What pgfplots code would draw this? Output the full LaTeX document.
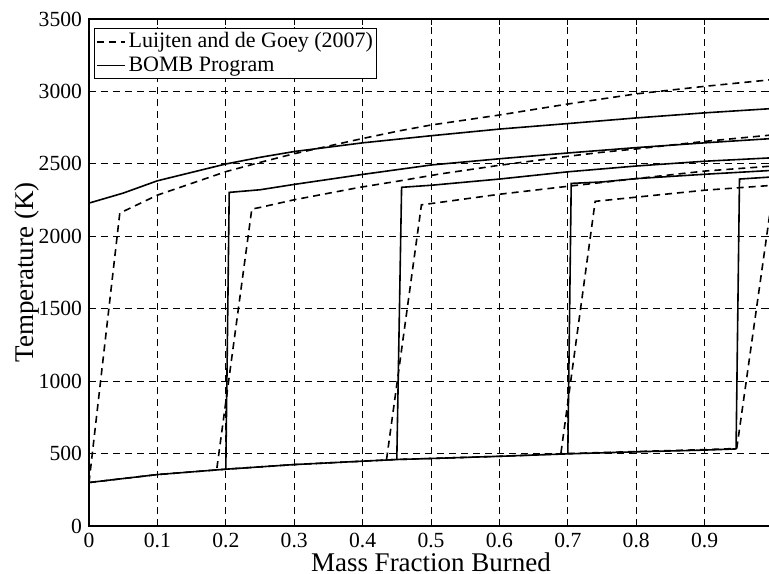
\documentclass[border=0pt]{standalone}
\usepackage{fontspec}
\setmainfont{Liberation Serif}
\usepackage{pgfplots}
\pgfplotsset{compat=1.18}
\begin{document}
\begin{tikzpicture}
\begin{axis}[
  scale only axis, width=342pt, height=253.5pt,
  xmin=0, xmax=1, ymin=0, ymax=3500,
  xtick={0,0.1,0.2,0.3,0.4,0.5,0.6,0.7,0.8,0.9,1},
  xticklabels={\textrm{0},\textrm{0.1},\textrm{0.2},\textrm{0.3},\textrm{0.4},\textrm{0.5},\textrm{0.6},\textrm{0.7},\textrm{0.8},\textrm{0.9},{}},
  ytick={0,500,1000,1500,2000,2500,3000,3500},
  yticklabels={\textrm{0},\textrm{500},\textrm{1000},\textrm{1500},\textrm{2000},\textrm{2500},\textrm{3000},\textrm{3500}},
  grid=major,
  major grid style={black, line width=0.5pt, dash pattern=on 3.5pt off 2.5pt},
  axis line style={black, line width=0.6pt},
  tick style={black, line width=0.5pt}, major tick length=3pt,
  tick label style={font=\fontsize{10.8}{12}\selectfont},
  /pgf/number format/assume math mode=true,
  xlabel={Mass Fraction Burned},
  ylabel={Temperature (K)},
  label style={font=\fontsize{13.5}{16}\selectfont},
  xlabel style={at={(axis description cs:0.5,-0.089)}, anchor=base},
  ylabel style={at={(axis description cs:-0.063,0.5)}, anchor=south},
  legend style={at={(axis description cs:0.008,0.982)}, anchor=north west,
    draw=black, line width=0.5pt, fill=white,
    font=\fontsize{11}{13}\selectfont, inner sep=0.5pt, row sep=0pt,
    nodes={inner sep=1.5pt}},
  legend cell align=left,
  legend image code/.code={\draw[#1] (0pt,0pt) -- (14pt,0pt);},
  sl/.style={black, line width=0.8pt},
  dl/.style={black, line width=0.8pt, dash pattern=on 3.5pt off 2.5pt},
]
\addlegendimage{dl}
\addlegendentry{Luijten and de Goey (2007)}
\addlegendimage{sl}
\addlegendentry{BOMB Program}

% BOMB Program (solid)
\addplot[sl, forget plot] coordinates {(0,300) (0.1,355) (0.2,392) (0.3,424) (0.45,459) (0.5,466) (0.6,481) (0.7,498) (0.8,512) (0.9,524) (0.946,532)};
\addplot[sl, forget plot] coordinates {(0,300) (0,2229) (0.05,2298) (0.1,2383) (0.2,2499) (0.25,2545) (0.3,2585) (0.4,2645) (0.5,2694) (0.6,2740) (0.7,2778) (0.8,2817) (0.9,2852) (1.0,2882)};
\addplot[sl, forget plot] coordinates {(0.2,392) (0.205,2303) (0.25,2321) (0.3,2358) (0.4,2427) (0.5,2492) (0.6,2535) (0.7,2575) (0.8,2612) (0.9,2645) (1.0,2675)};
\addplot[sl, forget plot] coordinates {(0.45,459) (0.457,2338) (0.5,2352) (0.6,2395) (0.7,2445) (0.8,2485) (0.9,2518) (1.0,2542)};
\addplot[sl, forget plot] coordinates {(0.7,498) (0.705,2365) (0.75,2375) (0.8,2398) (0.9,2428) (1.0,2455)};
\addplot[sl, forget plot] coordinates {(0.946,532) (0.951,2395) (1.0,2410)};

% Luijten and de Goey (2007) (dashed)
\addplot[dl, forget plot] coordinates {(0,300) (0.1,355) (0.2,392) (0.3,424) (0.45,459) (0.5,466) (0.6,481) (0.7,500) (0.8,514) (0.9,527) (0.947,535)};
\addplot[dl, forget plot] coordinates {(0,300) (0.045,2160) (0.1,2284) (0.2,2446) (0.25,2510) (0.3,2570) (0.4,2675) (0.455,2729) (0.5,2768) (0.6,2837) (0.7,2913) (0.8,2983) (0.9,3035) (1.0,3082)};
\addplot[dl, forget plot] coordinates {(0.187,400) (0.238,2188) (0.25,2199) (0.3,2252) (0.396,2338) (0.455,2383) (0.513,2430) (0.6,2490) (0.7,2552) (0.75,2580) (0.8,2603) (0.9,2655) (1.0,2700)};
\addplot[dl, forget plot] coordinates {(0.435,459) (0.486,2217) (0.513,2234) (0.6,2290) (0.7,2345) (0.8,2398) (0.9,2450) (1.0,2485)};
\addplot[dl, forget plot] coordinates {(0.69,505) (0.74,2241) (0.8,2270) (0.9,2318) (1.0,2352)};
\addplot[dl, forget plot] coordinates {(0.947,535) (0.998,2245) (1.0,2250)};
\end{axis}
\pgfresetboundingbox
\path[use as bounding box] ([xshift=-44.5pt,yshift=-24pt]current axis.south west) rectangle ([xshift=-2pt,yshift=9.5pt]current axis.north east);
\end{tikzpicture}
\end{document}
